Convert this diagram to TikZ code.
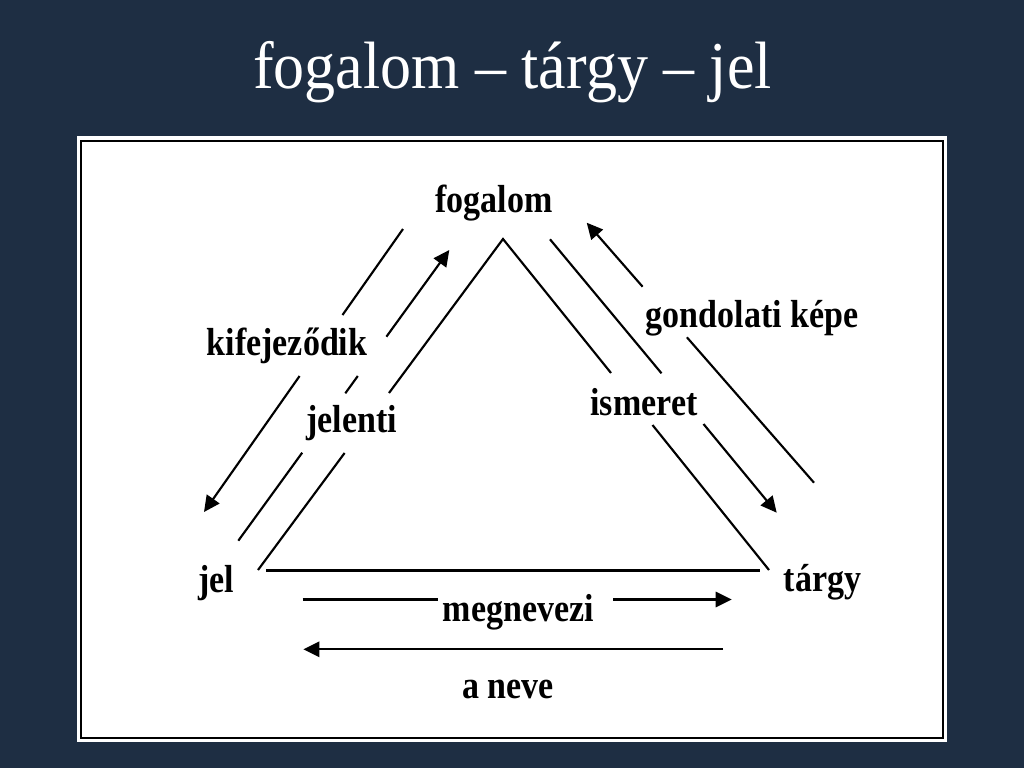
\documentclass[tikz,border=0pt]{standalone}
\usepackage{fontspec}
\setmainfont{Liberation Serif}
\usetikzlibrary{arrows.meta}
\definecolor{slidebg}{RGB}{30,46,67}
\newcommand{\tallbox}[1]{\scalebox{1}[1.15]{#1}}
\tikzset{
  lbl/.style={anchor=base, inner sep=0pt, font=\fontsize{25.5pt}{30pt}\selectfont\bfseries},
  ln/.style={line width=1.6pt, line cap=butt},
  arr/.style={ln, -{Triangle[length=12pt,width=11.5pt]}},
}
\begin{document}
\begin{tikzpicture}[x=0.75pt,y=-0.75pt]
\useasboundingbox (0,0) rectangle (1024,768);
\fill[slidebg] (0,0) rectangle (1024,768);
% title
\node[anchor=base, inner sep=0pt, text=white, font=\fontsize{46.5pt}{54pt}\selectfont] (title) at (512.5,88) {\scalebox{1}[1.08]{fogalom – tárgy – jel}};
% frame
\fill[white] (77,136) rectangle (947,742);
\draw[line width=1.5pt] (81,140.5) rectangle (943,737.5);
% labels
\node[lbl] (fogalom) at (494,212) {\tallbox{fogalom}};
\node[lbl] (kif) at (287,355) {\tallbox{kifejeződik}};
\node[lbl] (jelenti) at (351.5,432) {\tallbox{jelenti}};
\node[lbl] (gond) at (752,327) {\tallbox{gondolati képe}};
\node[lbl] (ism) at (644,415) {\tallbox{ismeret}};
\node[lbl] (jel) at (216,592) {\tallbox{jel}};
\node[lbl] (targy) at (822.5,591) {\tallbox{tárgy}};
\node[lbl] (megn) at (518.5,621) {\tallbox{megnevezi}};
\node[lbl] (aneve) at (508,698) {\tallbox{a neve}};
% triangle coordinates
\coordinate (apex) at (503,239);
\coordinate (lA) at (389,393);
\coordinate (lB) at (344.6,453);
\coordinate (jelc) at (258,570);
\coordinate (rA) at (611,373);
\coordinate (rB) at (652.5,425);
\coordinate (trc) at (769,570);
\coordinate (bL) at (266,570.5);
\coordinate (bR) at (760,570.5);
\draw[ln, line join=miter] (lA) -- (apex) -- (rA);
\draw[ln] (lB) -- (jelc);
\draw[ln] (rB) -- (trc);
\draw[ln] (bL) -- (bR);
% kifejezodik arrow
\coordinate (k1) at (403,229);
\coordinate (k2) at (342.5,315);
\coordinate (k3) at (299.6,376);
\coordinate (k4) at (204,512);
\draw[ln] (k1) -- (k2);
\draw[arr] (k3) -- (k4);
% jelenti arrow
\coordinate (j1) at (238.3,540.7);
\coordinate (j2) at (302.2,452.7);
\coordinate (j3) at (345.3,393.3);
\coordinate (j4) at (357.8,376);
\coordinate (j5) at (386.4,336.7);
\coordinate (j6) at (449.3,250);
\draw[ln] (j1) -- (j2);
\draw[ln] (j3) -- (j4);
\draw[arr] (j5) -- (j6);
% ismeret arrow
\coordinate (i1) at (550,239.3);
\coordinate (i2) at (661.5,373.3);
\coordinate (i3) at (703.5,424);
\coordinate (i4) at (776.7,512.7);
\draw[ln] (i1) -- (i2);
\draw[arr] (i3) -- (i4);
% gondolati kepe arrow
\coordinate (g1) at (814,482.7);
\coordinate (g2) at (686.9,337.3);
\coordinate (g3) at (642.6,286.7);
\coordinate (g4) at (586.7,222.7);
\draw[ln] (g1) -- (g2);
\draw[arr] (g3) -- (g4);
% megnevezi arrow
\coordinate (m1) at (302.7,599.5);
\coordinate (m2) at (438.3,599.5);
\coordinate (m3) at (613.3,599.5);
\coordinate (m4) at (731.7,599.5);
\draw[ln] (m1) -- (m2);
\draw[arr] (m3) -- (m4);
% a neve arrow
\coordinate (n1) at (723,649.3);
\coordinate (n2) at (303.3,649.3);
\draw[arr] (n1) -- (n2);
\end{tikzpicture}
\end{document}
